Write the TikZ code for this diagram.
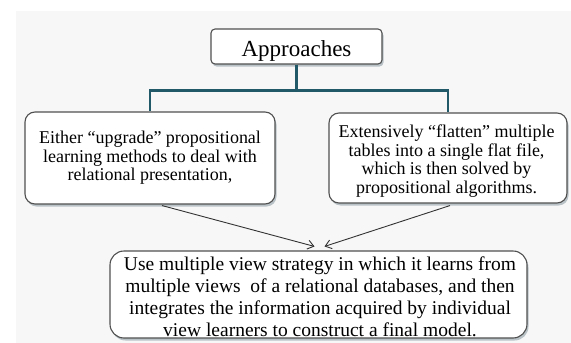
\documentclass[tikz,border=0pt]{standalone}
\usepackage{fontspec}
\setmainfont{Liberation Serif}
\usetikzlibrary{arrows.meta,shadows,calc}
\definecolor{treeline}{RGB}{33,89,104}
\definecolor{boxline}{RGB}{80,80,80}
\definecolor{paper}{RGB}{247,247,247}
\definecolor{shade}{RGB}{110,130,140}
\begin{document}
\begin{tikzpicture}[x=1pt,y=-1pt,
  box/.style={draw=boxline, line width=1.1pt, fill=white, align=center,
    inner sep=0pt, text=black,
    drop shadow={shadow xshift=1.5pt, shadow yshift=-2.5pt, opacity=0.45, fill=shade}},
  label/.style={align=center, inner sep=0pt, text=black},
  tree/.style={draw=treeline, line width=2.6pt},
  link/.style={draw=black!80, line width=0.9pt,
    -{Straight Barb[length=6pt,width=9pt,line width=0.9pt]}}]
  % canvas
  \fill[white] (0,0) rectangle (571,343);
  \useasboundingbox (0,0) rectangle (571,343);
  \fill[paper] (16,11) rectangle (571,343);

  % heading
  \node[box, rounded corners=4pt, minimum width=171pt,
        text height=27pt, text depth=8pt,
        font=\fontsize{23}{26}\selectfont] (app) at (296.5,46.5) {Approaches};

  % the two approaches
  \node[box, rounded corners=10pt, minimum width=250pt, minimum height=92pt,
        font=\fontsize{18}{18.6}\selectfont] (left) at (150,158)
    {Either \char"201C upgrade\char"201D{} propositional\\
     learning methods to deal with\\
     relational presentation,};
  \node[box, rounded corners=10pt, minimum width=238pt, minimum height=90pt] (right) at (448,158) {};
  \node[label, anchor=north, font=\fontsize{18}{18.8}\selectfont] (righttext) at (446.5,124.5)
    {Extensively \char"201C flatten\char"201D{} multiple\\
     tables into a single flat file,\\
     which is then solved by\\
     propositional algorithms.};

  % multi-view strategy: the text runs down to the lower border
  \node[box, rounded corners=14pt, minimum width=417pt, minimum height=87pt] (model) at (318.5,294.5) {};
  \node[label, anchor=north, font=\fontsize{19.5}{21.8}\selectfont] (modeltext) at (320,257)
    {Use multiple view strategy in which it learns from\\
     multiple views\ \ of a relational databases, and then\\
     integrates the information acquired by individual\\
     view learners to construct a final model.};

  % tree connectors
  \draw[tree] (app.south) -- ++(0,26) -| (left.north);
  \draw[tree] (app.south) -- ++(0,26) -| (right.north);

  % arrows into the multi-view box
  \draw[link] ($(left.south)+(12,1)$) -- ($(model.north)+(-4,-4)$);
  \draw[link] ($(right.south)+(2,2)$) -- ($(model.north)+(6,-4)$);
\end{tikzpicture}
\end{document}
